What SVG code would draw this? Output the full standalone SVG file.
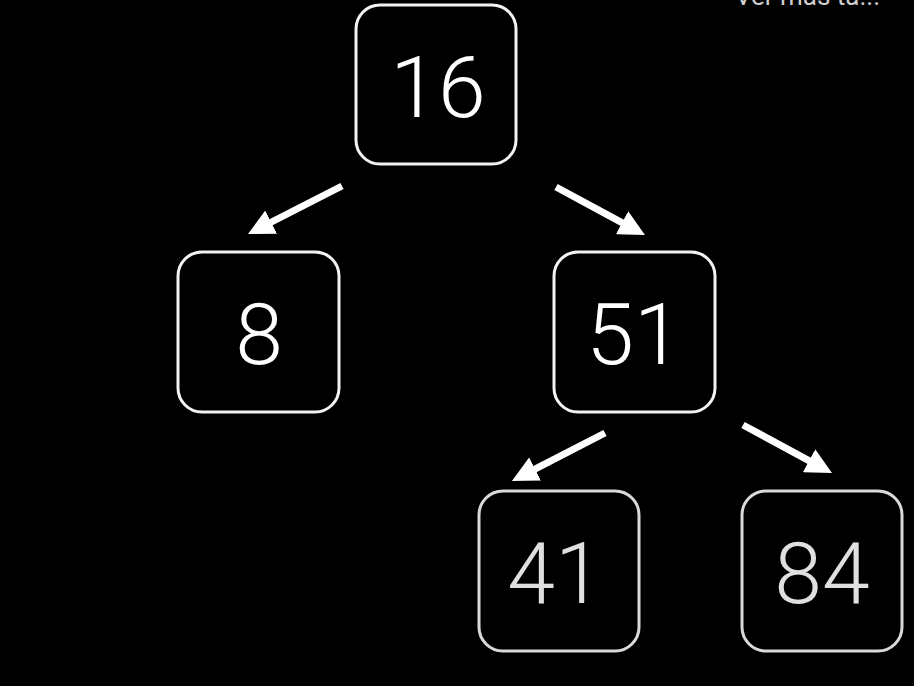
<svg xmlns="http://www.w3.org/2000/svg" width="914" height="686" viewBox="0 0 914 686">
<style>
.box{fill:#000;stroke:#f2f2f2;stroke-width:3}
.box2{fill:#000;stroke:#d9d9d9;stroke-width:3}
.num{font-family:Roboto,"Liberation Sans",sans-serif;font-weight:300;font-size:86px;fill:#fff;text-anchor:middle}
.num2{fill:#e0e0e0}
.edge{stroke:#fff;stroke-width:7;fill:none;marker-end:url(#ah)}
</style>
<defs>
<marker id="ah" markerUnits="userSpaceOnUse" viewBox="0 0 26 26" refX="4" refY="13" markerWidth="26" markerHeight="26" orient="auto">
<path d="M0,0 L26,13 L0,26 z" fill="#fff"/>
</marker>
</defs>
<rect width="914" height="686" fill="#000"/>
<text x="735" y="5" font-family="Roboto,'Liberation Sans',sans-serif" font-size="26" fill="#cfcfcf">Ver más ta...</text>
<g id="connectors">
<line class="edge" x1="342" y1="186" x2="267.6" y2="224"/>
<line class="edge" x1="556" y1="187" x2="625.6" y2="224.6"/>
<line class="edge" x1="605" y1="433" x2="531.5" y2="470.9"/>
<line class="edge" x1="743" y1="425" x2="812.6" y2="462.6"/>
</g>
<g id="n16"><rect class="box" x="356" y="5" width="160" height="159" rx="24"/><text class="num" x="438" y="117">16</text></g>
<g id="n8"><rect class="box" x="178" y="252" width="161" height="160" rx="24"/><text class="num" x="259" y="364">8</text></g>
<g id="n51"><rect class="box" x="554" y="252" width="161" height="160" rx="24"/><text class="num" x="634" y="364">51</text></g>
<g id="n41"><rect class="box2" x="479" y="491" width="160" height="160" rx="24"/><text class="num num2" x="555" y="603">41</text></g>
<g id="n84"><rect class="box2" x="742" y="491" width="160" height="160" rx="24"/><text class="num num2" x="822" y="603">84</text></g>
</svg>
